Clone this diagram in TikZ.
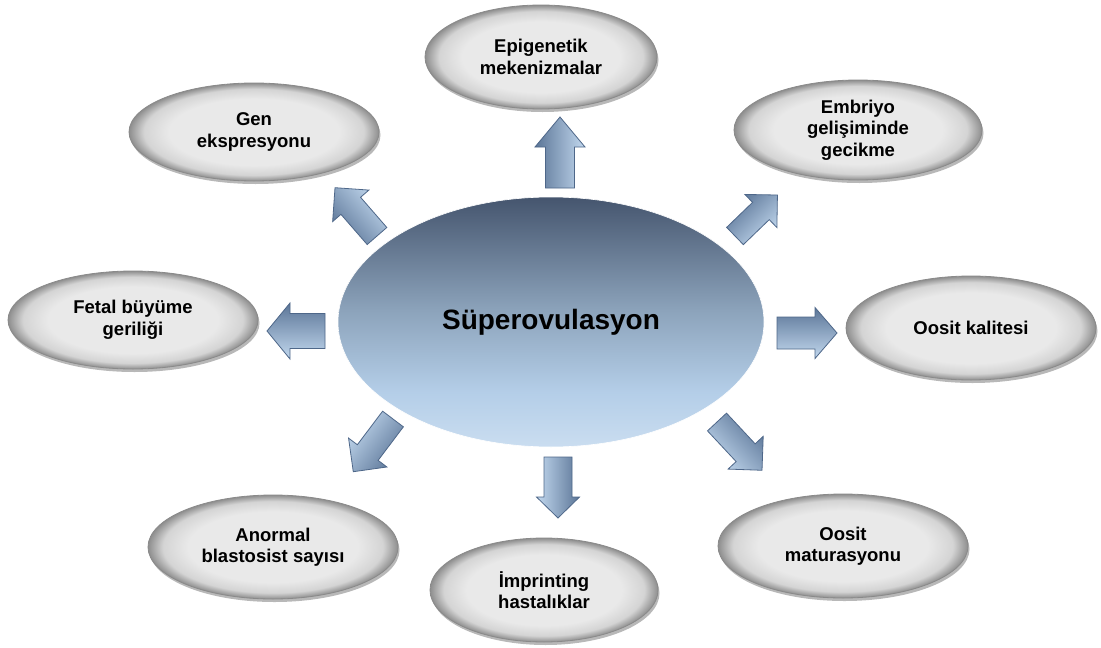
\documentclass[tikz,border=0pt]{standalone}
\usepackage{fontspec}
\setmainfont{Liberation Sans}
\usetikzlibrary{shapes.geometric,shadows,calc}

\definecolor{ovin}{HTML}{E9E9E9}
\definecolor{ovmid}{HTML}{D4D4D4}
\definecolor{ovout}{HTML}{8E8E8E}
\definecolor{ovline}{HTML}{8A8A8A}
\definecolor{ctop}{HTML}{45556E}
\definecolor{cmid}{HTML}{8DA4BC}
\definecolor{clow}{HTML}{B4CEE8}
\definecolor{cbot}{HTML}{CADDF0}
\definecolor{adark}{HTML}{5B7597}
\definecolor{alight}{HTML}{C2D8EE}
\definecolor{aline}{HTML}{4E6789}

\pgfdeclareradialshading{ovalshade}{\pgfpoint{0bp}{0bp}}{color(0bp)=(ovin); color(17bp)=(ovin); color(22bp)=(ovmid); color(25bp)=(ovout); color(50bp)=(ovout)}
\pgfdeclareverticalshading{centershade}{100bp}{color(0bp)=(cbot); color(25bp)=(cbot); color(36bp)=(clow); color(52bp)=(cmid); color(75bp)=(ctop); color(100bp)=(ctop)}
\pgfdeclareverticalshading{arrowshade}{100bp}{color(0bp)=(alight); color(25bp)=(alight); color(75bp)=(adark); color(100bp)=(adark)}

\tikzset{
  oval/.style={ellipse, draw=ovline, line width=0.8pt, shade, shading=ovalshade,
    inner sep=0pt, align=center, text=black,
    font=\fontsize{18.5}{21.5}\selectfont\bfseries,
    drop shadow={shadow xshift=1.5pt, shadow yshift=-3pt, opacity=0.28, fill=black}},
  hub/.style={ellipse, draw=white, line width=0.6pt, shade, shading=centershade,
    inner sep=0pt, text=black, font=\fontsize{28}{32}\selectfont\bfseries},
  barrow/.style={draw=aline, line width=0.8pt, shade, shading=arrowshade, line join=miter}
}

% #1 name, #2 tail, #3 angle, #4 length, #5 shaft width, #6 head width, #7 head length, #8 shading angle
\newcommand\blockarr[8]{%
  \coordinate (#1) at #2;
  \begin{scope}[shift={(#1)}, rotate=#3]
    \path[barrow, shading angle=#8]
      (0,{-#5/2}) -- ({#4-#7},{-#5/2}) -- ({#4-#7},{-#6/2}) -- (#4,0)
      -- ({#4-#7},{#6/2}) -- ({#4-#7},{#5/2}) -- (0,{#5/2}) -- cycle;
  \end{scope}}

\begin{document}
\begin{tikzpicture}[x=1pt,y=-1pt]
\useasboundingbox (0,0) rectangle (1101,648);
\fill[white] (0,0) rectangle (1101,648);

% central hub
\node[hub, minimum width=426pt, minimum height=250pt] (hub) at (551,322) {Süperovulasyon};

% outer ovals
\node[oval, minimum width=232pt, minimum height=104pt] (epi) at (541,57) {Epigenetik\\mekenizmalar};
\node[oval, minimum width=250pt, minimum height=98pt] (gen) at (254,132) {Gen\\ekspresyonu};
\node[oval, minimum width=248pt, minimum height=100pt] (emb) at (858,130) {Embriyo\\gelişiminde\\gecikme};
\node[oval, minimum width=250pt, minimum height=98pt] (fet) at (133,320) {Fetal büyüme\\geriliği};
\node[oval, minimum width=250pt, minimum height=104pt] (ook) at (971,328) {Oosit kalitesi};
\node[oval, minimum width=250pt, minimum height=104pt] (ano) at (273,547) {Anormal\\blastosist sayısı};
\node[oval, minimum width=228pt, minimum height=104pt] (imp) at (544,590) {İmprinting\\hastalıklar};
\node[oval, minimum width=250pt, minimum height=104pt] (mat) at (843,546) {Oosit\\maturasyonu};

% block arrows
\blockarr{aup}{(560,188)}{90}{71}{29}{50}{30}{90}
\blockarr{aul}{(377,236)}{131}{64}{26}{48}{24}{131}
\blockarr{aur}{(735,236)}{44}{59}{24}{46}{23}{44}
\blockarr{art}{(777,333)}{0}{60}{32}{51}{22}{0}
\blockarr{alt}{(325,331)}{180}{58}{35}{56}{23}{0}
\blockarr{all}{(393,419)}{233}{66}{26}{48}{24}{233}
\blockarr{alr}{(717,422)}{-47}{66}{26}{48}{24}{-47}
\blockarr{adn}{(558,457)}{-90}{61}{28}{43}{21}{-90}
\end{tikzpicture}
\end{document}
